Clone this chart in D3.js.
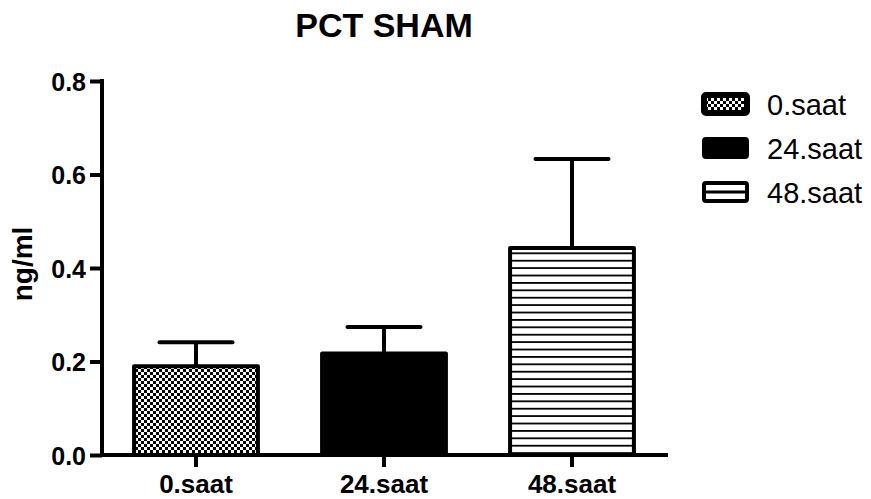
<!DOCTYPE html>
<html>
<head>
<meta charset="utf-8">
<script src="https://cdn.jsdelivr.net/npm/d3@7"></script>
<style>
  html, body { margin: 0; padding: 0; background: #fff; }
  svg { display: block; }
  text { font-family: "Liberation Sans", Arial, sans-serif; fill: #000; }
</style>
</head>
<body>
<svg id="chart" width="871" height="499"></svg>
<script>
// PCT levels (ng/ml) in the sham group at three time points, mean + SEM
const categories = ["0.saat", "24.saat", "48.saat"];
const means = [0.19, 0.217, 0.443];
const sems = [0.051, 0.057, 0.19];
const yTicks = [0.0, 0.2, 0.4, 0.6, 0.8];
const patterns = ["checker", "solid", "hstripe"];

const svg = d3.select("#chart");
const defs = svg.append("defs");

// Fine checkerboard fill
const checker = defs.append("pattern")
  .attr("id", "checker").attr("patternUnits", "userSpaceOnUse")
  .attr("width", 6).attr("height", 6);
checker.append("rect").attr("width", 6).attr("height", 6).attr("fill", "#fff");
checker.append("rect").attr("width", 3).attr("height", 3).attr("fill", "#000");
checker.append("rect").attr("x", 3).attr("y", 3).attr("width", 3).attr("height", 3).attr("fill", "#000");

// Horizontal line fill
const hstripe = defs.append("pattern")
  .attr("id", "hstripe").attr("patternUnits", "userSpaceOnUse")
  .attr("width", 8).attr("height", 7.4).attr("y", 0.8);
hstripe.append("rect").attr("width", 8).attr("height", 7.4).attr("fill", "#fff");
hstripe.append("rect").attr("y", 0).attr("width", 8).attr("height", 1.8).attr("fill", "#000");

const fillFor = p => p === "checker" ? "url(#checker)" : p === "solid" ? "#000" : "url(#hstripe)";

const x = d3.scaleBand().domain(categories).range([102, 666])
  .paddingInner(0.32).paddingOuter(0.16);
const y = d3.scaleLinear().domain([0, 0.8]).range([455, 81]);

// Title
svg.append("text").attr("x", 384).attr("y", 37)
  .attr("text-anchor", "middle").attr("font-weight", "bold").attr("font-size", 34)
  .text("PCT SHAM");

// Y axis title
svg.append("text").attr("transform", "translate(32,264) rotate(-90)")
  .attr("text-anchor", "middle").attr("font-weight", "bold").attr("font-size", 28)
  .text("ng/ml");

// Error bars (upper only)
const capW = 73;
const err = svg.append("g").attr("stroke", "#000").attr("stroke-width", 4);
categories.forEach((c, i) => {
  const cx = x(c) + x.bandwidth() / 2;
  err.append("line").attr("x1", cx).attr("x2", cx)
    .attr("y1", y(means[i])).attr("y2", y(means[i] + sems[i]));
  err.append("line").attr("x1", cx - capW / 2).attr("x2", cx + capW / 2)
    .attr("y1", y(means[i] + sems[i])).attr("y2", y(means[i] + sems[i]))
    .attr("stroke-linecap", "round");
});

// Bars
svg.append("g").selectAll("rect").data(categories).join("rect")
  .attr("x", d => x(d) + 2)
  .attr("y", (d, i) => y(means[i]))
  .attr("width", x.bandwidth() - 4)
  .attr("height", (d, i) => y(0) - y(means[i]))
  .attr("fill", (d, i) => fillFor(patterns[i]))
  .attr("stroke", "#000").attr("stroke-width", 4)
  .attr("stroke-linejoin", "round");

// Y axis
const yAxis = svg.append("g").attr("transform", "translate(102,0)")
  .call(d3.axisLeft(y).tickValues(yTicks).tickFormat(d3.format(".1f"))
    .tickSize(12).tickSizeOuter(0).tickPadding(4));
yAxis.select(".domain").attr("stroke-width", 4).attr("d", `M0,${y(0.8) - 2}V${y(0) + 2}`);
yAxis.selectAll(".tick line").attr("stroke-width", 4);
yAxis.selectAll(".tick text").attr("font-size", 25).attr("font-weight", "bold")
  .attr("font-family", "'Liberation Sans', Arial, sans-serif").attr("dy", "0.36em");

// X axis
const xAxis = svg.append("g").attr("transform", `translate(0,${y(0)})`)
  .call(d3.axisBottom(x).tickSize(12).tickSizeOuter(0).tickPadding(4));
xAxis.select(".domain").attr("stroke-width", 4).attr("d", "M100,0H668");
xAxis.selectAll(".tick line").attr("stroke-width", 4);
xAxis.selectAll(".tick text").attr("font-size", 26).attr("font-weight", "bold")
  .attr("font-family", "'Liberation Sans', Arial, sans-serif").attr("dy", "0.85em");

// Legend
const legend = svg.append("g");
const legY = [104, 148, 192];
categories.forEach((c, i) => {
  const g = legend.append("g").attr("transform", `translate(702,${legY[i]})`);
  g.append("rect").attr("x", 2).attr("y", -9).attr("width", 43).attr("height", 18)
    .attr("rx", 2).attr("fill", patterns[i] === "checker" ? "url(#checker)" : patterns[i] === "solid" ? "#000" : "#fff")
    .attr("stroke", "#000").attr("stroke-width", patterns[i] === "checker" ? 6 : 4);
  if (patterns[i] === "hstripe") {
    g.append("line").attr("x1", 2).attr("x2", 45).attr("y1", 0).attr("y2", 0)
      .attr("stroke", "#000").attr("stroke-width", 3);
  }
  g.append("text").attr("x", 65).attr("y", 11).attr("font-size", 29).text(c);
});
</script>
</body>
</html>
